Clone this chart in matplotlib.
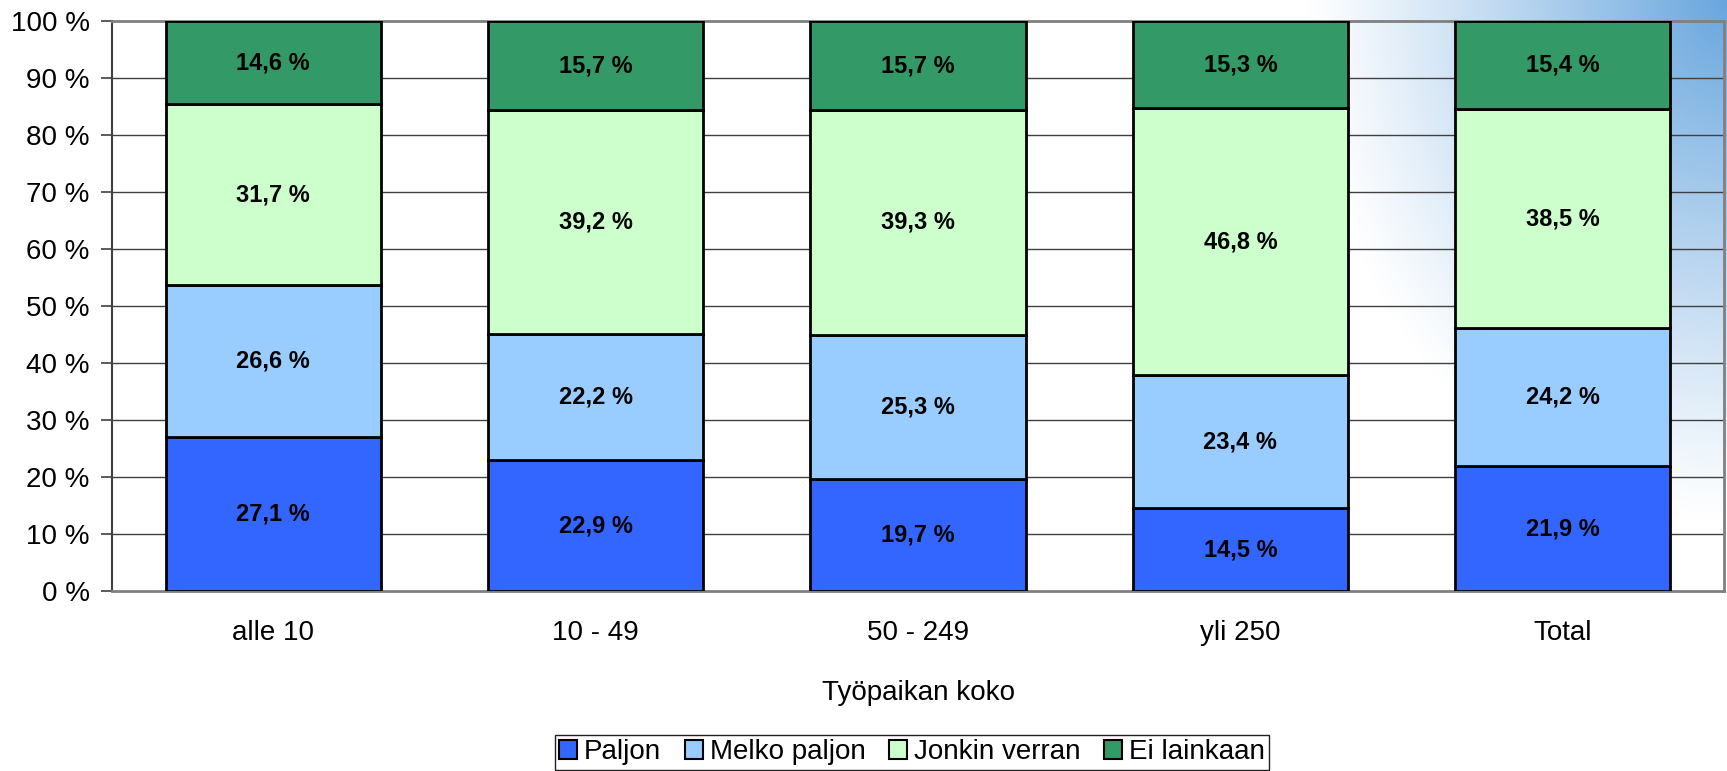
import numpy as np
import matplotlib
matplotlib.use("Agg")
import matplotlib.pyplot as plt
from matplotlib.patches import Patch

plt.rcParams['font.family'] = ['Liberation Sans', 'DejaVu Sans']

categories = ["alle 10", "10 - 49", "50 - 249", "yli 250", "Total"]
series_names = ["Paljon", "Melko paljon", "Jonkin verran", "Ei lainkaan"]
paljon = [27.1, 22.9, 19.7, 14.5, 21.9]
melko_paljon = [26.6, 22.2, 25.3, 23.4, 24.2]
jonkin_verran = [31.7, 39.2, 39.3, 46.8, 38.5]
ei_lainkaan = [14.6, 15.7, 15.7, 15.3, 15.4]
colors = ["#3366FF", "#99CCFF", "#CCFFCC", "#339966"]
xlabel = "Työpaikan koko"
yticks = list(range(0, 101, 10))

W, H = 1727, 771
fig = plt.figure(figsize=(W / 100, H / 100), dpi=100)

# background glow at top-right
bg = fig.add_axes([0, 0, 1, 1], zorder=-10)
yy, xx = np.mgrid[0:H, 0:W]
d = np.sqrt(((xx - W) / 420.0) ** 2 + (yy / 520.0) ** 2)
t = np.clip(1 - d, 0, 1) ** 1.1
base = np.array([1.0, 1.0, 1.0])
blue = np.array([0.41, 0.65, 0.87])
img = base[None, None, :] * (1 - t[..., None]) + blue[None, None, :] * t[..., None]
bg.imshow(img, extent=[0, 1, 0, 1], aspect='auto', origin='upper')
bg.axis('off')

ax = fig.add_axes([112 / W, 1 - 591 / H, (1724 - 112) / W, (591 - 21) / H])
ax.patch.set_alpha(0)

series = [paljon, melko_paljon, jonkin_verran, ei_lainkaan]
x = np.arange(len(categories))
bottom = np.zeros(len(categories))
for name, vals, c in zip(series_names, series, colors):
    vals = np.array(vals)
    ax.bar(x, vals, width=0.667, bottom=bottom, color=c, edgecolor='black',
           linewidth=2, zorder=3, label=name)
    for xi, b, v in zip(x, bottom, vals):
        ax.text(xi, b + v / 2, f"{v:.1f}".replace('.', ',') + " %",
                ha='center', va='center', fontsize=17, fontweight='bold', zorder=4)
    bottom += vals

ax.set_xlim(-0.5, len(categories) - 0.5)
ax.set_ylim(0, 100)
ax.set_yticks(yticks)
ax.set_yticklabels([f"{v} %" for v in yticks], fontsize=20)
ax.set_xticks(x)
ax.set_xticklabels(categories, fontsize=20)
ax.tick_params(axis='x', length=0, pad=21)
ax.tick_params(axis='y', length=8, width=1.2, color='#404040', pad=8)
for yv in yticks[1:-1]:
    ax.axhline(yv, color='#404040', linewidth=1, zorder=1)
ax.spines['left'].set_color('#404040')
ax.spines['left'].set_linewidth(1.5)
ax.spines['bottom'].set_color('#808080')
ax.spines['bottom'].set_linewidth(2)
ax.spines['top'].set_color('#808080')
ax.spines['top'].set_linewidth(2)
ax.spines['right'].set_color('#808080')
ax.spines['right'].set_linewidth(2)
ax.set_xlabel(xlabel, fontsize=20, labelpad=24)

handles = [Patch(facecolor=c, edgecolor='black', linewidth=1.5) for c in colors]
leg = fig.legend(handles, series_names, loc='lower center', ncol=4,
                 bbox_to_anchor=(912 / W, 0.0), fontsize=20, frameon=True,
                 fancybox=False, edgecolor='#202020', framealpha=1,
                 handlelength=0.65, handleheight=0.65, handletextpad=0.25,
                 columnspacing=0.85, borderpad=0.15, borderaxespad=0.05)
leg.get_frame().set_linewidth(1)

fig.savefig("out.png", dpi=100)
